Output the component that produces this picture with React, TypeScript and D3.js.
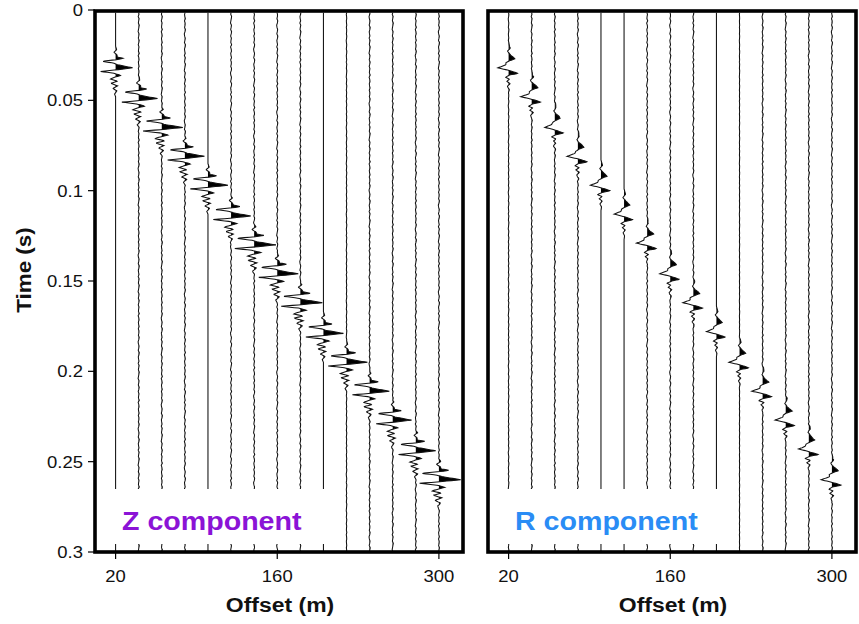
import React from "react";
import * as d3 from "d3";

// ---------- data ----------
const OFFSETS = [20, 40, 60, 80, 100, 120, 140, 160, 180, 200, 220, 240, 260, 280, 300];
const TIME_TICKS = [0, 0.05, 0.1, 0.15, 0.2, 0.25, 0.3];
const TIME_TICK_LABELS = ["0", "0.05", "0.1", "0.15", "0.2", "0.25", "0.3"];
const OFFSET_TICKS = [20, 160, 300];

// Z component: arrival time of main (positive) peak per trace, relative amplitude, noise level
const Z_ARRIVALS = [0.032, 0.049, 0.065, 0.081, 0.097, 0.114, 0.130, 0.146, 0.162, 0.179, 0.195, 0.211, 0.227, 0.244, 0.260];
const Z_AMPS = [0.85, 0.95, 1.05, 1.0, 1.0, 1.0, 1.1, 1.05, 1.1, 1.0, 1.05, 1.0, 0.95, 1.0, 1.1];
const Z_NOISE = [0, 1, 1, 1, 0, 1, 1, 1, 1, 0, 0.5, 1, 1, 1, 1];
// Z wavelet: [dt (ms) from main peak, relative amplitude]
const Z_WAVELET_DT = [-12, -10, -8.6, -7.2, -6.0, -5.2, -4.5, -3.6, -2.6, -1.7, 0, 1.1, 2.0, 3.0, 4.2, 5.2, 6.2, 7.4, 8.6, 10, 11.4, 12.8, 14.5, 16];
const Z_WAVELET_AMP = [0, 0.06, -0.1, 0.08, 0.1, 0.45, 0.05, -0.8, -0.12, 0.12, 1.0, 0.08, -0.88, -0.1, 0.3, -0.05, -0.32, 0.12, -0.28, 0.12, -0.16, 0.08, -0.06, 0];

// R component: arrival time of main trough per trace, relative amplitude, noise level
const R_ARRIVALS = [0.032, 0.048, 0.065, 0.081, 0.097, 0.113, 0.129, 0.146, 0.162, 0.178, 0.195, 0.211, 0.227, 0.243, 0.260];
const R_AMPS = [1.0, 1.0, 0.95, 1.0, 1.0, 0.95, 1.0, 1.0, 1.0, 0.95, 1.0, 1.0, 1.0, 1.0, 1.0];
const R_NOISE = [0.6, 1, 1, 1, 0, 0, 1, 1, 1, 0, 0.3, 1, 1, 1, 1];
const R_WAVELET_DT = [-14, -11, -9.2, -7.2, -5.0, -3.9, -2.8, -1.6, 0, 1.1, 2.0, 3.1, 4.0, 5.2, 6.3, 7.5, 8.8, 10.3, 12, 14];
const R_WAVELET_AMP = [0, 0.15, -0.12, 0.2, 0.58, 0.1, -0.25, -0.3, -1.0, -0.2, 0.35, 0.9, 0.1, -0.32, 0.1, -0.16, 0.12, -0.1, 0.05, 0];

// fixed background jitter pattern
const NOISE_PATTERN = [0.3, -0.5, 0.8, 0.2, -0.9, -0.4, 0.6, 0.1, -0.7, 0.9, 0.4, -0.6, -0.2, 0.5, -0.8, 0.7, 0.0, -0.5, 0.9, 0.3, -0.3, -0.9, 0.6, 0.1, -0.6, 0.8, 0.2, -0.7, 0.5, -0.1, -0.4, 0.9, -0.8, 0.2, 0.6, -0.5, -0.1, 0.7, -0.6, 0.4];

// ---------- layout ----------
const W = 859;
const H = 624;
const TOP = 11;
const BOTTOM = 552;
const FONT = "'Liberation Sans', Arial, sans-serif";
const STRETCH = 1.12;

const yScale = d3.scaleLinear().domain([0, 0.3]).range([TOP - 1, BOTTOM]);

type PanelProps = {
  x0: number;
  x1: number;
  arrivals: number[];
  amps: number[];
  noise: number[];
  wdt: number[];
  wamp: number[];
  ampPx: number;
  label: string;
  labelColor: string;
  coverX1: number;
  showYAxis: boolean;
};

function Panel(p: PanelProps) {
  const xScale = d3.scaleLinear().domain([0, 320]).range([p.x0 - 2.5, p.x1 - 1]);
  const wavelet = d3.scaleLinear().domain(p.wdt).range(p.wamp).clamp(true);
  const dtStep = 0.00025;
  const times = d3.range(0.0015, 0.3 + 1e-9, dtStep);
  const nStep = 0.0012;

  const traces = OFFSETS.map((off, i) => {
    const base = xScale(off);
    const pts = times.map((t) => {
      const w = wavelet((t - p.arrivals[i]) * 1000) * p.amps[i] * p.ampPx;
      const k = t / nStep + i * 11;
      const k0 = Math.floor(k);
      const f = k - k0;
      const a = NOISE_PATTERN[k0 % NOISE_PATTERN.length];
      const b = NOISE_PATTERN[(k0 + 1) % NOISE_PATTERN.length];
      const n = (a * (1 - f) + b * f) * 0.65 * p.noise[i];
      return { t, x: base + w + n };
    });
    return { base, pts };
  });

  const line = d3
    .line<{ t: number; x: number }>()
    .x((d) => d.x)
    .y((d) => yScale(d.t));

  return (
    <g>
      {traces.map((tr, i) => {
        const area = d3
          .area<{ t: number; x: number }>()
          .y((d) => yScale(d.t))
          .x0(tr.base)
          .x1((d) => Math.max(tr.base, d.x));
        return (
          <g key={i}>
            <path d={area(tr.pts) || ""} fill="#000" stroke="none" />
            <path d={line(tr.pts) || ""} fill="none" stroke="#111" strokeWidth={1.05} />
          </g>
        );
      })}
      {/* label box */}
      <rect x={p.x0 + 2} y={489} width={p.coverX1 - p.x0 - 2} height={55} fill="#fff" />
      <text
        transform={`translate(${p.x0 + 27},${530}) scale(1.1,1)`}
        fontFamily={FONT}
        fontWeight="bold"
        fontSize={26}
        fill={p.labelColor}
      >
        {p.label}
      </text>
      {/* frame */}
      <rect x={p.x0} y={TOP} width={p.x1 - p.x0} height={BOTTOM - TOP} fill="none" stroke="#000" strokeWidth={3.6} />
      {/* x ticks */}
      {OFFSET_TICKS.map((v) => (
        <g key={v}>
          <line x1={xScale(v)} x2={xScale(v)} y1={BOTTOM} y2={BOTTOM + 7} stroke="#000" strokeWidth={1.2} />
          <text
            transform={`translate(${xScale(v)},${582}) scale(${STRETCH},1)`}
            textAnchor="middle"
            fontFamily={FONT}
            fontSize={16.5}
            fill="#111"
          >
            {v}
          </text>
        </g>
      ))}
      <text
        transform={`translate(${(p.x0 + p.x1) / 2 + 1},${612}) scale(${STRETCH},1)`}
        textAnchor="middle"
        fontFamily={FONT}
        fontWeight="bold"
        fontSize={20.5}
        fill="#111"
      >
        Offset (m)
      </text>
      {p.showYAxis && (
        <g>
          {TIME_TICKS.map((v, i) => (
            <g key={v}>
              <line x1={p.x0 - 7} x2={p.x0} y1={yScale(v)} y2={yScale(v)} stroke="#000" strokeWidth={1.2} />
              <text
                transform={`translate(${p.x0 - 12},${yScale(v) + 6}) scale(${STRETCH},1)`}
                textAnchor="end"
                fontFamily={FONT}
                fontSize={16.5}
                fill="#111"
              >
                {TIME_TICK_LABELS[i]}
              </text>
            </g>
          ))}
          <text
            transform={`translate(${31},${270}) rotate(-90) scale(${STRETCH},1)`}
            textAnchor="middle"
            fontFamily={FONT}
            fontWeight="bold"
            fontSize={20}
            fill="#111"
          >
            Time (s)
          </text>
        </g>
      )}
    </g>
  );
}

export default function App() {
  return (
    <svg
      width={W}
      height={H}
      viewBox={`0 0 ${W} ${H}`}
      style={{ position: "absolute", left: 0, top: 0, background: "#fff" }}
    >
      <rect x={0} y={0} width={W} height={H} fill="#fff" />
      <Panel
        x0={95}
        x1={463}
        arrivals={Z_ARRIVALS}
        amps={Z_AMPS}
        noise={Z_NOISE}
        wdt={Z_WAVELET_DT}
        wamp={Z_WAVELET_AMP}
        ampPx={20}
        label="Z component"
        labelColor="#8B13D6"
        coverX1={338}
        showYAxis={true}
      />
      <Panel
        x0={488}
        x1={856}
        arrivals={R_ARRIVALS}
        amps={R_AMPS}
        noise={R_NOISE}
        wdt={R_WAVELET_DT}
        wamp={R_WAVELET_AMP}
        ampPx={10.5}
        label="R component"
        labelColor="#2A8CF5"
        coverX1={731}
        showYAxis={false}
      />
    </svg>
  );
}
